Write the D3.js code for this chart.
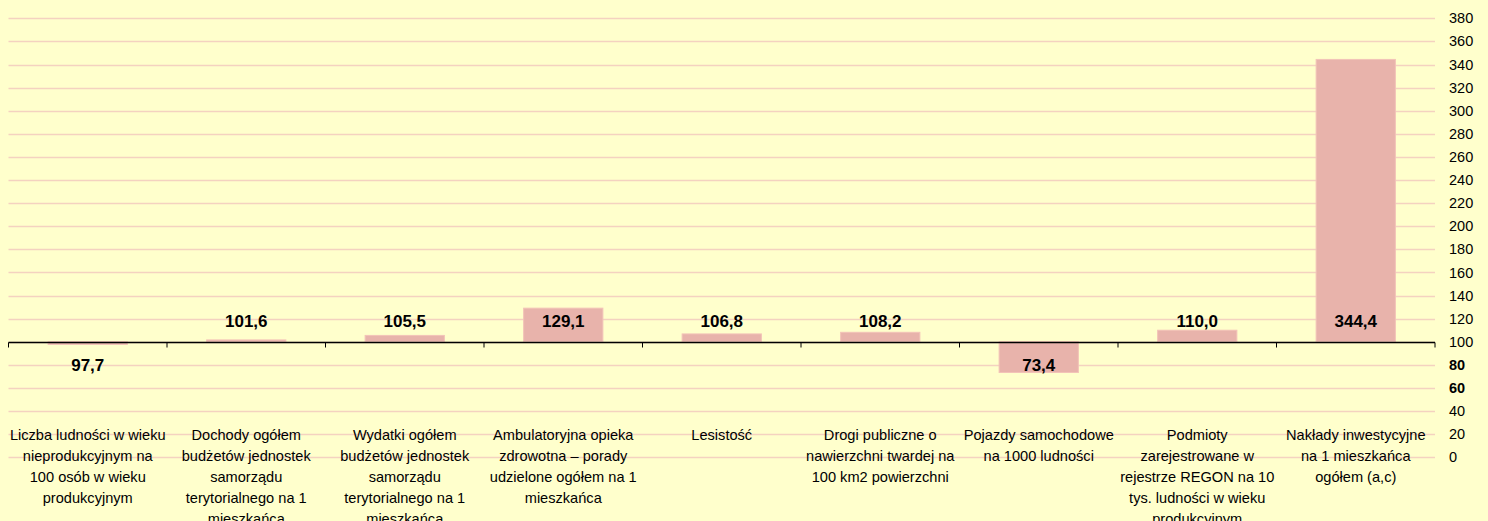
<!DOCTYPE html>
<html>
<head>
<meta charset="utf-8">
<script src="https://cdn.jsdelivr.net/npm/d3@7"></script>
<style>
  html, body { margin: 0; padding: 0; background: #FFFFCC; }
  svg { display: block; }
  text { font-family: "Liberation Sans", Arial, sans-serif; fill: #000; }
</style>
</head>
<body>
<svg id="chart" width="1488" height="521"></svg>
<script>
const categories = [
  "Liczba ludności w wieku\nnieprodukcyjnym na\n100 osób w wieku\nprodukcyjnym",
  "Dochody ogółem\nbudżetów jednostek\nsamorządu\nterytorialnego na 1\nmieszkańca",
  "Wydatki ogółem\nbudżetów jednostek\nsamorządu\nterytorialnego na 1\nmieszkańca",
  "Ambulatoryjna opieka\nzdrowotna – porady\nudzielone ogółem na 1\nmieszkańca",
  "Lesistość",
  "Drogi publiczne o\nnawierzchni twardej na\n100 km2 powierzchni",
  "Pojazdy samochodowe\nna 1000 ludności",
  "Podmioty\nzarejestrowane w\nrejestrze REGON na 10\ntys. ludności w wieku\nprodukcyjnym",
  "Nakłady inwestycyjne\nna 1 mieszkańca\nogółem (a,c)"
];
const values = [97.7, 101.6, 105.5, 129.1, 106.8, 108.2, 73.4, 110.0, 344.4];
const valueLabels = ["97,7", "101,6", "105,5", "129,1", "106,8", "108,2", "73,4", "110,0", "344,4"];
const yTicks = [0, 20, 40, 60, 80, 100, 120, 140, 160, 180, 200, 220, 240, 260, 280, 300, 320, 340, 360, 380];
const boldTicks = [60, 80];
const baseValue = 100;

const svg = d3.select("#chart");
const left = 8.5, right = 1435;
const x = d3.scaleBand().domain(d3.range(categories.length)).range([left, right]).paddingInner(0.5).paddingOuter(0.25);
const xb = d3.scaleBand().domain(d3.range(categories.length)).range([left, right]);
const y = d3.scaleLinear().domain([0, 380]).range([457.3, 18.3]);

// gridlines
svg.append("g").selectAll("line").data(yTicks).join("line")
  .attr("x1", left).attr("x2", right)
  .attr("y1", d => Math.round(y(d)) + 0.5).attr("y2", d => Math.round(y(d)) + 0.5)
  .attr("stroke", "#F4D2C0").attr("stroke-width", 1.5);

// y tick labels (right)
svg.append("g").selectAll("text").data(yTicks).join("text")
  .attr("x", 1449).attr("y", d => y(d))
  .attr("dy", "0.35em")
  .style("font-size", "14.5px")
  .style("font-weight", d => boldTicks.includes(d) ? "bold" : "normal")
  .text(d => d);

// bars
svg.append("g").selectAll("rect").data(values).join("rect")
  .attr("x", (d, i) => x(i))
  .attr("width", x.bandwidth())
  .attr("y", d => y(Math.max(d, baseValue)))
  .attr("height", d => Math.abs(y(d) - y(baseValue)))
  .attr("fill", "#E8B3AB")
  .attr("stroke", "#F3C3B8").attr("stroke-width", 1);

// category axis at 100
const axisG = svg.append("g").attr("transform", `translate(0,${Math.round(y(baseValue)) + 0.5})`);
axisG.append("line").attr("x1", left).attr("x2", right).attr("stroke", "#000").attr("stroke-width", 1.3);
const bounds = d3.range(categories.length + 1).map(i => i < categories.length ? xb(i) : right);
axisG.selectAll("line.tick").data(bounds).join("line").attr("class", "tick")
  .attr("x1", d => d).attr("x2", d => d).attr("y1", 0).attr("y2", 5)
  .attr("stroke", "#000").attr("stroke-width", 1);

// value labels
svg.append("g").selectAll("text").data(values).join("text")
  .attr("x", (d, i) => x(i) + x.bandwidth() / 2)
  .attr("y", d => d >= baseValue ? y(baseValue) - 20.5 : y(baseValue) + 23)
  .attr("dy", "0.35em")
  .attr("text-anchor", "middle")
  .style("font-size", "17px").style("font-weight", "bold")
  .text((d, i) => valueLabels[i]);

// category labels
const catG = svg.append("g");
categories.forEach((c, i) => {
  const t = catG.append("text")
    .attr("x", x(i) + x.bandwidth() / 2)
    .attr("y", 440)
    .attr("text-anchor", "middle")
    .style("font-size", "14.6px");
  c.split("\n").forEach((line, k) => {
    t.append("tspan").attr("x", x(i) + x.bandwidth() / 2).attr("y", 440 + k * 21).text(line);
  });
});
</script>
</body>
</html>
